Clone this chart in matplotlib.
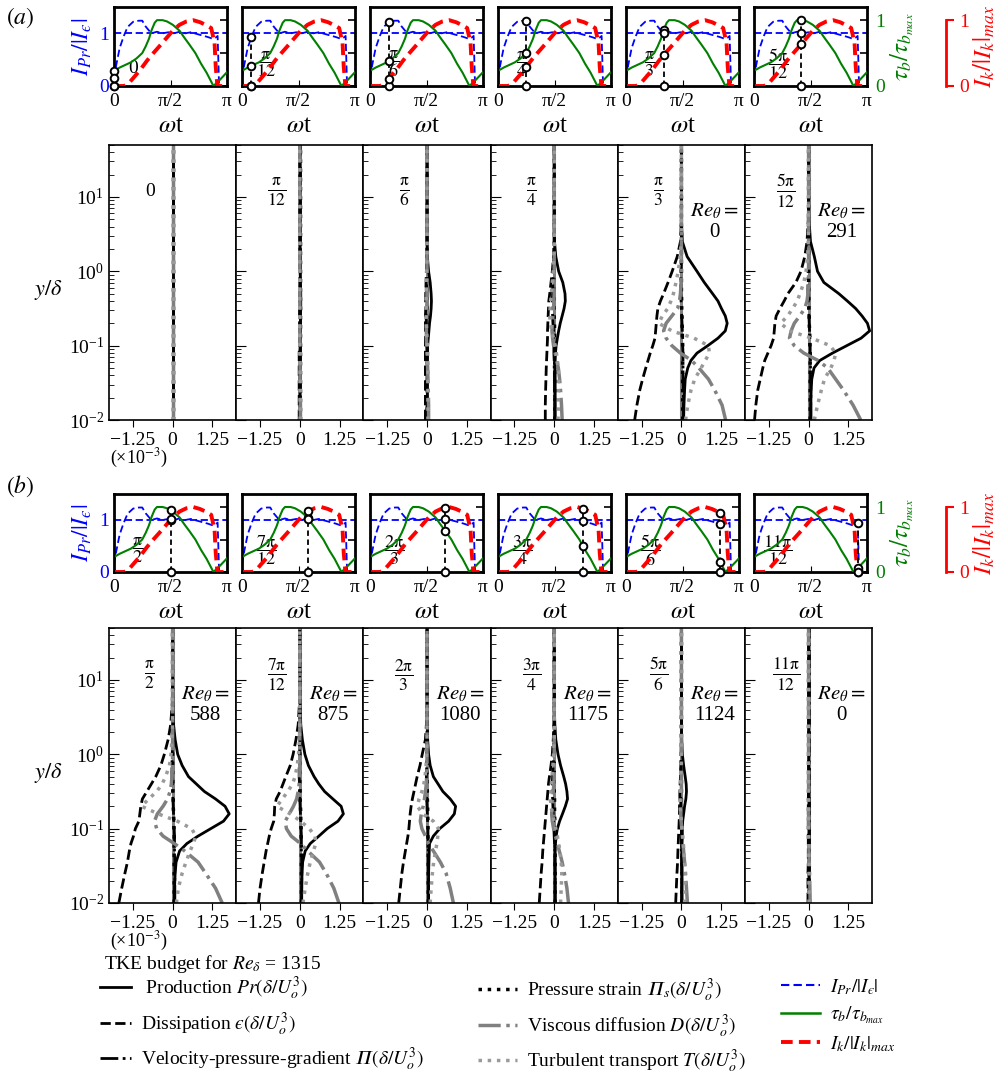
import numpy as np
import matplotlib.pyplot as plt
from matplotlib.lines import Line2D

plt.rcParams['font.family'] = ['Liberation Serif', 'DejaVu Serif']
plt.rcParams['mathtext.fontset'] = 'stix'

# phase of each snapshot, in units of pi
phase = [0, 1/12, 2/12, 3/12, 4/12, 5/12, 6/12, 7/12, 8/12, 9/12, 10/12, 11/12]
phase_num = ['0', r'\mathrm{\pi}', r'\mathrm{\pi}', r'\mathrm{\pi}', r'\mathrm{\pi}', r'5\mathrm{\pi}',
             r'\mathrm{\pi}', r'7\mathrm{\pi}', r'2\mathrm{\pi}', r'3\mathrm{\pi}', r'5\mathrm{\pi}',
             r'11\mathrm{\pi}']
phase_den = [None, '12', '6', '4', '3', '12', '2', '12', '3', '4', '6', '12']
re_theta = [None, None, None, None, 0, 291, 588, 875, 1080, 1175, 1124, 0]

# phase histories over half a cycle (t in units of pi)
ipr_t = [0, 0.02, 0.05, 0.085, 0.12, 0.17, 0.22, 0.25, 0.28, 0.33, 0.38, 0.43, 0.48, 0.53, 0.58,
         0.63, 0.68, 0.73, 0.78, 0.83, 0.87, 0.9, 0.917, 0.93, 1.0]
ipr = [0.15, 0.4, 0.72, 0.94, 1.12, 1.22, 1.24, 1.24, 1.13, 1.0, 1.03, 1.0, 1.02, 1.0, 1.03,
       1.0, 1.02, 0.99, 0.96, 0.93, 0.9, 0.92, 0.95, 0.0, 0.0]
tau_t = [0, 0.05, 0.1, 0.15, 0.2, 0.25, 0.28, 0.31, 0.333, 0.36, 0.38, 0.43, 0.47, 0.52, 0.58,
         0.62, 0.667, 0.72, 0.77, 0.82, 0.88, 0.94, 1.0]
tau = [0.23, 0.28, 0.32, 0.36, 0.42, 0.5, 0.6, 0.72, 0.85, 0.96, 1.0, 1.0, 0.98, 0.93, 0.84,
       0.74, 0.63, 0.5, 0.34, 0.2, 0.0, 0.1, 0.21]
ik_t = [0, 0.09, 0.13, 0.17, 0.23, 0.29, 0.333, 0.4, 0.46, 0.52, 0.58, 0.64, 0.7, 0.76, 0.81,
        0.86, 0.89, 0.9, 0.915, 1.0]
ik = [0, 0, 0.04, 0.12, 0.24, 0.38, 0.47, 0.6, 0.72, 0.84, 0.93, 0.98, 1.0, 0.97, 0.93,
      0.88, 0.65, 0.3, 0, 0]

# wall-normal positions y/delta
y = [0.01, 0.0158, 0.0251, 0.0355, 0.0501, 0.0631, 0.0794, 0.1, 0.126, 0.158, 0.2, 0.251,
     0.316, 0.398, 0.501, 0.708, 1.0, 1.58, 2.51, 5.01, 10.0, 50.0]

# TKE budget terms (x 1e-3), one row per phase
production = [
    [0, 0, 0, 0, 0, 0, 0, 0, 0, 0, 0, 0, 0, 0, 0, 0, 0, 0, 0, 0, 0, 0],
    [0, 0, 0, 0, 0, 0, 0, 0.01, 0.01, 0.01, 0.02, 0.02, 0.03, 0.03, 0.03, 0.02, 0.01, 0, 0, 0, 0, 0],
    [0.01, 0.01, 0.01, 0.01, 0.01, 0.01, 0.02, 0.02, 0.04, 0.06, 0.08, 0.11, 0.13, 0.14, 0.13, 0.1, 0.05, 0.01, 0, 0, 0, 0],
    [0.03, 0.03, 0.03, 0.03, 0.03, 0.03, 0.04, 0.06, 0.1, 0.14, 0.19, 0.25, 0.31, 0.35, 0.34, 0.27, 0.14, 0.05, 0.01, 0, 0, 0],
    [0.07, 0.08, 0.1, 0.12, 0.2, 0.3, 0.49, 0.83, 1.15, 1.38, 1.44, 1.38, 1.26, 1.15, 0.98, 0.72, 0.49, 0.18, 0.03, 0, 0, 0],
    [0.07, 0.07, 0.08, 0.1, 0.17, 0.35, 0.75, 1.2, 1.65, 1.92, 1.85, 1.68, 1.48, 1.22, 0.95, 0.48, 0.28, 0.18, 0.06, 0.01, 0, 0],
    [0.05, 0.06, 0.08, 0.11, 0.22, 0.45, 0.8, 1.2, 1.6, 1.78, 1.65, 1.35, 1.0, 0.75, 0.5, 0.3, 0.16, 0.08, 0.03, 0.01, 0, 0],
    [0.05, 0.06, 0.07, 0.09, 0.17, 0.33, 0.6, 0.86, 1.2, 1.37, 1.3, 1.04, 0.78, 0.6, 0.45, 0.27, 0.16, 0.08, 0.03, 0.01, 0, 0],
    [0.05, 0.05, 0.05, 0.06, 0.07, 0.08, 0.2, 0.4, 0.68, 0.86, 0.9, 0.73, 0.5, 0.35, 0.2, 0.1, 0.05, 0.02, 0.01, 0, 0, 0],
    [0.03, 0.03, 0.03, 0.03, 0.03, 0.04, 0.06, 0.1, 0.17, 0.26, 0.35, 0.42, 0.4, 0.36, 0.3, 0.2, 0.12, 0.05, 0.02, 0, 0, 0],
    [0.02, 0.02, 0.02, 0.02, 0.02, 0.02, 0.03, 0.03, 0.04, 0.07, 0.1, 0.14, 0.16, 0.15, 0.12, 0.07, 0.03, 0.01, 0, 0, 0, 0],
    [0.01, 0.01, 0.01, 0.01, 0.01, 0.01, 0.01, 0.01, 0.01, 0.01, 0.01, 0.01, 0.01, 0.01, 0.01, 0, 0, 0, 0, 0, 0, 0],
]
dissipation = [
    [0, 0, 0, 0, 0, 0, 0, 0, 0, 0, 0, 0, 0, 0, 0, 0, 0, 0, 0, 0, 0, 0],
    [-0.02, -0.02, -0.02, -0.02, -0.02, -0.02, -0.02, -0.01, -0.01, -0.01, -0.01, -0.01, -0.01, -0.01, -0.01, 0, 0, 0, 0, 0, 0, 0],
    [-0.05, -0.05, -0.05, -0.05, -0.05, -0.05, -0.05, -0.05, -0.05, -0.05, -0.05, -0.05, -0.04, -0.04, -0.04, -0.03, -0.02, -0.01, 0, 0, 0, 0],
    [-0.28, -0.28, -0.27, -0.26, -0.25, -0.24, -0.23, -0.22, -0.21, -0.21, -0.2, -0.19, -0.18, -0.17, -0.14, -0.1, -0.06, -0.02, 0, 0, 0, 0],
    [-1.47, -1.4, -1.31, -1.22, -1.12, -1.05, -0.98, -0.9, -0.83, -0.81, -0.79, -0.77, -0.74, -0.66, -0.56, -0.42, -0.29, -0.13, -0.03, 0, 0, 0],
    [-1.7, -1.66, -1.6, -1.52, -1.44, -1.38, -1.28, -1.18, -1.1, -1.08, -1.06, -1.02, -0.9, -0.77, -0.65, -0.4, -0.24, -0.12, -0.05, -0.01, 0, 0],
    [-1.69, -1.6, -1.5, -1.42, -1.36, -1.31, -1.23, -1.17, -1.06, -1.03, -1.0, -0.95, -0.81, -0.67, -0.53, -0.37, -0.26, -0.14, -0.06, -0.01, 0, 0],
    [-1.3, -1.25, -1.18, -1.12, -1.06, -1.01, -0.96, -0.9, -0.82, -0.8, -0.79, -0.74, -0.62, -0.53, -0.44, -0.3, -0.21, -0.12, -0.05, -0.01, 0, 0],
    [-0.89, -0.84, -0.79, -0.74, -0.68, -0.64, -0.6, -0.57, -0.55, -0.53, -0.5, -0.46, -0.41, -0.36, -0.31, -0.22, -0.15, -0.05, -0.02, 0, 0, 0],
    [-0.47, -0.44, -0.41, -0.38, -0.36, -0.34, -0.32, -0.3, -0.28, -0.26, -0.24, -0.22, -0.2, -0.18, -0.15, -0.1, -0.06, -0.03, -0.01, 0, 0, 0],
    [-0.18, -0.16, -0.14, -0.12, -0.11, -0.1, -0.09, -0.08, -0.07, -0.06, -0.06, -0.05, -0.05, -0.04, -0.03, -0.02, -0.01, 0, 0, 0, 0, 0],
    [-0.02, -0.02, -0.02, -0.01, -0.01, -0.01, -0.01, -0.01, -0.01, -0.01, -0.01, -0.01, 0, 0, 0, 0, 0, 0, 0, 0, 0, 0],
]
vel_press = [
    [0, 0, 0, 0, 0, 0, 0, 0, 0, 0, 0, 0, 0, 0, 0, 0, 0, 0, 0, 0, 0, 0],
    [0, 0, 0, 0, 0, 0, 0, 0, 0, 0, 0, 0, 0, 0, 0, 0, 0, 0, 0, 0, 0, 0],
    [0, 0, 0, 0, 0, 0, 0, -0.01, -0.01, -0.02, -0.02, -0.03, -0.03, -0.03, -0.02, -0.01, 0, 0, 0, 0, 0, 0],
    [0.02, 0.02, 0.01, 0.01, 0, 0, -0.01, -0.01, -0.02, -0.02, -0.04, -0.05, -0.06, -0.06, -0.05, -0.04, -0.02, -0.01, 0, 0, 0, 0],
    [0.06, 0.06, 0.06, 0.05, 0.05, 0.05, 0.05, 0.04, 0.04, 0.03, 0.02, 0.01, 0, -0.01, -0.02, -0.02, -0.01, 0, 0, 0, 0, 0],
    [0.07, 0.07, 0.07, 0.06, 0.06, 0.06, 0.05, 0.05, 0.04, 0.03, 0.02, 0.01, 0, -0.01, -0.02, -0.02, -0.01, 0, 0, 0, 0, 0],
    [0.07, 0.07, 0.07, 0.07, 0.06, 0.06, 0.06, 0.05, 0.04, 0.03, 0.02, 0.01, 0, -0.01, -0.02, -0.02, -0.01, 0, 0, 0, 0, 0],
    [0.06, 0.06, 0.06, 0.06, 0.05, 0.05, 0.05, 0.04, 0.03, 0.02, 0.01, 0, -0.01, -0.01, -0.02, -0.02, -0.01, 0, 0, 0, 0, 0],
    [0.05, 0.05, 0.05, 0.04, 0.04, 0.04, 0.03, 0.03, 0.02, 0.01, 0, -0.01, -0.02, -0.02, -0.02, -0.01, 0, 0, 0, 0, 0, 0],
    [0.03, 0.03, 0.03, 0.02, 0.02, 0.01, 0, -0.01, -0.02, -0.03, -0.04, -0.05, -0.06, -0.06, -0.05, -0.03, -0.01, 0, 0, 0, 0, 0],
    [0.01, 0.01, 0.01, 0.01, 0, 0, 0, 0, -0.01, -0.01, -0.02, -0.02, -0.02, -0.02, -0.01, -0.01, 0, 0, 0, 0, 0, 0],
    [0, 0, 0, 0, 0, 0, 0, 0, 0, 0, 0, 0, 0, 0, 0, 0, 0, 0, 0, 0, 0, 0],
]
press_strain = [
    [0, 0, 0, 0, 0, 0, 0, 0, 0, 0, 0, 0, 0, 0, 0, 0, 0, 0, 0, 0, 0, 0],
    [0, 0, 0, 0, 0, 0, 0, 0, 0, 0, 0, 0, 0, 0, 0, 0, 0, 0, 0, 0, 0, 0],
    [0.01, 0.01, 0.01, 0.01, 0.01, 0.01, 0.01, 0.01, 0.01, 0, 0, 0, 0, 0, 0, 0, 0, 0, 0, 0, 0, 0],
    [0.02, 0.02, 0.02, 0.02, 0.02, 0.02, 0.02, 0.02, 0.01, 0.01, 0.01, 0, 0, 0, 0, 0, 0, 0, 0, 0, 0, 0],
    [0.04, 0.04, 0.04, 0.04, 0.04, 0.04, 0.04, 0.04, 0.03, 0.03, 0.02, 0.02, 0.01, 0.01, 0, 0, 0, 0, 0, 0, 0, 0],
    [0.05, 0.05, 0.05, 0.05, 0.05, 0.05, 0.05, 0.04, 0.04, 0.03, 0.02, 0.02, 0.01, 0.01, 0, 0, 0, 0, 0, 0, 0, 0],
    [0.05, 0.05, 0.05, 0.05, 0.05, 0.05, 0.05, 0.04, 0.04, 0.03, 0.02, 0.02, 0.01, 0.01, 0, 0, 0, 0, 0, 0, 0, 0],
    [0.05, 0.05, 0.05, 0.05, 0.05, 0.05, 0.04, 0.04, 0.03, 0.03, 0.02, 0.01, 0.01, 0, 0, 0, 0, 0, 0, 0, 0, 0],
    [0.04, 0.04, 0.04, 0.04, 0.04, 0.04, 0.03, 0.03, 0.03, 0.02, 0.02, 0.01, 0.01, 0, 0, 0, 0, 0, 0, 0, 0, 0],
    [0.03, 0.03, 0.03, 0.03, 0.03, 0.03, 0.02, 0.02, 0.02, 0.01, 0.01, 0.01, 0, 0, 0, 0, 0, 0, 0, 0, 0, 0],
    [0.02, 0.02, 0.02, 0.02, 0.02, 0.02, 0.01, 0.01, 0.01, 0.01, 0, 0, 0, 0, 0, 0, 0, 0, 0, 0, 0, 0],
    [0.01, 0.01, 0.01, 0.01, 0.01, 0, 0, 0, 0, 0, 0, 0, 0, 0, 0, 0, 0, 0, 0, 0, 0, 0],
]
viscous = [
    [0, 0, 0, 0, 0, 0, 0, 0, 0, 0, 0, 0, 0, 0, 0, 0, 0, 0, 0, 0, 0, 0],
    [0.02, 0.02, 0.01, 0.01, 0.01, 0, 0, 0, 0, 0, 0, 0, 0, 0, 0, 0, 0, 0, 0, 0, 0, 0],
    [0.05, 0.05, 0.04, 0.03, 0.02, 0.01, 0, -0.01, -0.02, -0.02, -0.02, -0.01, -0.01, 0, 0, 0, 0, 0, 0, 0, 0, 0],
    [0.25, 0.23, 0.2, 0.17, 0.13, 0.08, 0.03, -0.02, -0.05, -0.07, -0.06, -0.04, -0.02, -0.01, 0, 0, 0, 0, 0, 0, 0, 0],
    [1.39, 1.28, 1.05, 0.85, 0.55, 0.32, -0.03, -0.3, -0.48, -0.56, -0.48, -0.3, -0.12, -0.06, -0.03, -0.01, 0, 0, 0, 0, 0, 0],
    [1.64, 1.4, 1.1, 0.85, 0.6, 0.3, -0.15, -0.45, -0.6, -0.55, -0.45, -0.28, -0.12, -0.05, -0.02, 0, 0, 0, 0, 0, 0, 0],
    [1.56, 1.35, 1.04, 0.8, 0.38, 0.05, -0.3, -0.5, -0.57, -0.48, -0.3, -0.16, -0.08, -0.04, -0.02, 0, 0, 0, 0, 0, 0, 0],
    [1.23, 1.07, 0.83, 0.62, 0.25, 0.02, -0.27, -0.42, -0.46, -0.33, -0.2, -0.1, -0.05, -0.02, 0, 0, 0, 0, 0, 0, 0, 0],
    [0.83, 0.73, 0.6, 0.42, 0.2, 0.05, -0.05, -0.16, -0.21, -0.18, -0.12, -0.08, -0.05, -0.02, -0.01, 0, 0, 0, 0, 0, 0, 0],
    [0.45, 0.4, 0.32, 0.25, 0.16, 0.1, 0.04, -0.02, -0.06, -0.08, -0.07, -0.05, -0.03, -0.01, 0, 0, 0, 0, 0, 0, 0, 0],
    [0.19, 0.16, 0.13, 0.1, 0.07, 0.05, 0.03, 0.01, -0.01, -0.02, -0.02, -0.01, 0, 0, 0, 0, 0, 0, 0, 0, 0, 0],
    [0.05, 0.04, 0.03, 0.02, 0.01, 0.01, 0, 0, 0, 0, 0, 0, 0, 0, 0, 0, 0, 0, 0, 0, 0, 0],
]
transport = [
    [0, 0, 0, 0, 0, 0, 0, 0, 0, 0, 0, 0, 0, 0, 0, 0, 0, 0, 0, 0, 0, 0],
    [0.01, 0.01, 0.01, 0.01, 0.01, 0.01, 0.01, 0, 0, 0, 0, 0, 0, 0, 0, 0, 0, 0, 0, 0, 0, 0],
    [0.03, 0.03, 0.03, 0.03, 0.03, 0.02, 0.02, 0.01, 0, -0.01, -0.02, -0.03, -0.03, -0.03, -0.02, -0.02, -0.01, 0, 0, 0, 0, 0],
    [0.12, 0.13, 0.14, 0.14, 0.13, 0.1, 0.07, 0.03, -0.02, -0.08, -0.12, -0.14, -0.13, -0.11, -0.09, -0.06, -0.03, -0.01, 0, 0, 0, 0],
    [0.13, 0.2, 0.3, 0.42, 0.62, 0.75, 0.88, 0.85, 0.4, -0.3, -0.71, -0.6, -0.43, -0.33, -0.25, -0.17, -0.1, -0.04, -0.01, 0, 0, 0],
    [0.18, 0.28, 0.4, 0.5, 0.7, 0.8, 0.85, 0.68, 0.1, -0.6, -0.88, -0.66, -0.5, -0.36, -0.27, -0.15, -0.08, -0.03, -0.01, 0, 0, 0],
    [0.12, 0.18, 0.3, 0.42, 0.55, 0.65, 0.73, 0.6, 0.15, -0.45, -0.98, -0.75, -0.5, -0.33, -0.22, -0.1, -0.05, -0.02, 0, 0, 0, 0],
    [0.1, 0.17, 0.25, 0.33, 0.43, 0.5, 0.48, 0.3, 0.03, -0.3, -0.72, -0.55, -0.38, -0.23, -0.15, -0.08, -0.04, -0.01, 0, 0, 0, 0],
    [0.1, 0.13, 0.17, 0.21, 0.27, 0.31, 0.34, 0.36, 0.2, -0.14, -0.3, -0.25, -0.16, -0.1, -0.06, -0.03, -0.01, 0, 0, 0, 0, 0],
    [0.2, 0.22, 0.24, 0.22, 0.18, 0.14, 0.1, 0.05, 0, -0.06, -0.1, -0.12, -0.11, -0.09, -0.07, -0.04, -0.02, 0, 0, 0, 0, 0],
    [0.1, 0.11, 0.12, 0.1, 0.08, 0.06, 0.04, 0.02, 0, -0.02, -0.04, -0.05, -0.04, -0.03, -0.02, -0.01, 0, 0, 0, 0, 0, 0],
    [0.01, 0.01, 0.01, 0.01, 0.01, 0.01, 0, 0, 0, 0, 0, 0, 0, 0, 0, 0, 0, 0, 0, 0, 0, 0],
]

W, H = 1007, 1073
GRAY = '#808080'
LGRAY = '#9a9a9a'
INSET_TOP = 1.5    # host (I_Pr) axis limit
TWIN_TOP = 1.2     # tau_b and I_k axis limit
PI_IT = '\U0001D6F1'  # italic capital pi
EPS = '\u03f5'        # lunate epsilon

fig = plt.figure(figsize=(W / 100, H / 100), dpi=100)


def box(left, top, width, height):
    return [left / W, 1 - (top + height) / H, width / W, height / H]


def phase_label(k, cmd):
    if phase_den[k] is None:
        return phase_num[k]
    return r'$' + cmd + '{' + phase_num[k] + '}{' + phase_den[k] + '}$'


ipr_label = r'$I_{Pr}/|I_' + EPS + '|$'

# term styles shared by the profiles and the legend
styles = [
    (production, dict(color='k', ls='-', lw=2.0), r' Production $Pr(\delta/U_o^3)$'),
    (dissipation, dict(color='k', ls='--', lw=2.0), 'Dissipation $' + EPS + r'(\delta/U_o^3)$'),
    (vel_press, dict(color='k', ls='-.', lw=2.0),
     'Velocity-pressure-gradient $' + PI_IT + r'(\delta/U_o^3)$'),
    (press_strain, dict(color='k', ls=':', lw=2.5),
     'Pressure strain $' + PI_IT + r'_s(\delta/U_o^3)$'),
    (viscous, dict(color=GRAY, ls='-.', lw=2.5), r'Viscous diffusion $D(\delta/U_o^3)$'),
    (transport, dict(color=LGRAY, ls=':', lw=2.5), r'Turbulent transport $T(\delta/U_o^3)$'),
]


def draw_inset(ax, k, first, last):
    t0 = phase[k]
    ax.axhline(1, color='blue', ls='--', lw=1.3, dashes=(4, 2))
    ax.plot(np.array(ipr_t) * np.pi, ipr, color='blue', lw=1.3, dashes=(4, 2))
    ax.set_xlim(0, np.pi)
    ax.set_ylim(0, INSET_TOP)
    ax.set_xticks([0, np.pi / 2, np.pi])
    ax.set_xticklabels(['0', 'π/2', 'π'])
    ax.set_yticks([0, 1])
    ax.tick_params(axis='x', direction='in', length=4, labelsize=14, top=False, pad=5)
    ax.tick_params(axis='y', direction='in', length=0, labelsize=14,
                   labelcolor='blue', labelleft=first)
    ax.set_xlabel(r'$\omega$t', fontsize=18, labelpad=4)
    for s in ax.spines.values():
        s.set_linewidth(2)
    if first:
        ax.set_ylabel(ipr_label, color='blue', fontsize=17, labelpad=4)

    tw = ax.twinx()
    tw.plot(np.array(tau_t) * np.pi, tau, color='green', lw=1.5)
    tw.plot(np.array(ik_t) * np.pi, ik, color='red', lw=2.8, dashes=(3, 1.6))
    tw.set_ylim(0, TWIN_TOP)
    tw.set_yticks([0, 0.5, 1])
    tw.set_yticklabels(['0', '', '1'])
    tw.tick_params(axis='y', direction='in', length=5, width=1.2, labelsize=14,
                   labelcolor='green', labelright=last, pad=6)
    if last:
        tw.set_ylabel(r'$\tau_b/\tau_{b_{max}}$', color='green', fontsize=18, labelpad=2)

    # current phase: values of the three histories
    b = np.interp(t0, ipr_t, ipr) * TWIN_TOP / INSET_TOP
    g = np.interp(t0, tau_t, tau)
    r = np.interp(t0, ik_t, ik)
    x0 = t0 * np.pi
    tw.plot([x0, x0], [0, max(b, g, r)], color='k', ls='--', lw=1.3, dashes=(3, 2))
    tw.plot([x0] * 4, [0, g, r, b], 'o', mfc='white', mec='k', ms=5.5, mew=1.4,
            clip_on=False, zorder=5)
    if k == 0:
        ax.text(0.17, 0.22, '0', transform=ax.transAxes, fontsize=14,
                ha='center', va='center', zorder=6)
    else:
        ax.text(0.21, 0.28, phase_label(k, r'\dfrac'), transform=ax.transAxes, fontsize=13,
                ha='center', va='center', zorder=6)

    if last:
        rx = ax.twinx()
        rx.set_ylim(0, TWIN_TOP)
        for side in ['top', 'bottom', 'left']:
            rx.spines[side].set_visible(False)
        rx.spines['right'].set_position(('axes', 1.7))
        rx.spines['right'].set_bounds(0, 1)
        rx.spines['right'].set_color('red')
        rx.spines['right'].set_linewidth(2)
        rx.set_yticks([0, 1])
        rx.tick_params(axis='y', colors='red', labelsize=14, length=6, width=1.5)
        rx.set_ylabel(r'$I_k/|I_k|_{max}$', color='red', fontsize=18, labelpad=2)


def draw_profile(ax, k, first):
    ax.axvline(0, color=GRAY, lw=2.2, zorder=1)
    for term, st, _ in styles:
        ax.plot(term[k], y, **st)
    ax.set_yscale('log')
    ax.set_ylim(0.01, 50)
    ax.set_xlim(-2, 2)
    ax.set_xticks([-1.25, 0, 1.25])
    ax.set_xticklabels(['\u22121.25', '0', '1.25'])
    ax.tick_params(axis='x', direction='out', length=5, labelsize=14)
    ax.tick_params(axis='y', which='major', direction='in', length=7, labelsize=14,
                   labelleft=first)
    ax.tick_params(axis='y', which='minor', direction='in', length=3.5, labelleft=False)
    for s in ax.spines.values():
        s.set_linewidth(1.2)
    ax.text(0.32, 0.83, phase_label(k, r'\frac'), transform=ax.transAxes,
            fontsize=18 if k else 14, ha='center', va='center')
    if re_theta[k] is not None:
        ax.text(0.76, 0.72, r'$Re_\theta =$' + '\n' + str(re_theta[k]), transform=ax.transAxes,
                fontsize=15, ha='center', va='center', linespacing=1.1)


rows = [
    dict(inset_top=7, inset_h=79, prof_top=145, tag='a', tag_y=18, k0=0),
    dict(inset_top=494, inset_h=78, prof_top=628, tag='b', tag_y=486, k0=6),
]
for row in rows:
    for i in range(6):
        k = row['k0'] + i
        ax = fig.add_axes(box(114 + 128 * i, row['inset_top'], 113, row['inset_h']))
        draw_inset(ax, k, i == 0, i == 5)
        pax = fig.add_axes(box(109 + 127.2 * i, row['prof_top'], 127.2, 275))
        draw_profile(pax, k, i == 0)
    fig.text(20 / W, 1 - row['tag_y'] / H, r'$(' + row['tag'] + ')$', fontsize=17,
             ha='center', va='center')
    fig.text(48 / W, 1 - (row['prof_top'] + 145) / H, r'$y/\delta$', fontsize=16,
             ha='center', va='center')
    fig.text(110 / W, 1 - (row['prof_top'] + 313) / H, '(\u00d710$^{-3}$)', fontsize=13,
             ha='left', va='center')

# legend block under the panels
fig.text(104 / W, 1 - 964 / H, r'TKE budget for $Re_\delta$ = 1315', fontsize=14,
         ha='left', va='center')
handles = [Line2D([], [], **st) for _, st, _ in styles]
labels = [lab for _, _, lab in styles]
common = dict(frameon=False, fontsize=14, borderpad=0, borderaxespad=0,
              handletextpad=0.5, labelspacing=0.4, loc='upper left')
fig.legend(handles[:3], labels[:3], bbox_to_anchor=(100 / W, 1 - 975 / H),
           handlelength=1.6, **common)
fig.legend(handles[3:], labels[3:], bbox_to_anchor=(478 / W, 1 - 977 / H),
           handlelength=2.0, **common)
inset_handles = [Line2D([], [], color='blue', lw=1.5, dashes=(4, 2)),
                 Line2D([], [], color='green', lw=1.8),
                 Line2D([], [], color='red', lw=2.8, dashes=(3, 1.6))]
inset_labels = [ipr_label, r'$\tau_b/\tau_{b_{max}}$', r'$I_k/|I_k|_{max}$']
fig.legend(inset_handles, inset_labels, bbox_to_anchor=(781 / W, 1 - 977 / H),
           handlelength=2.0, **common)

fig.savefig('out.png', dpi=100)
